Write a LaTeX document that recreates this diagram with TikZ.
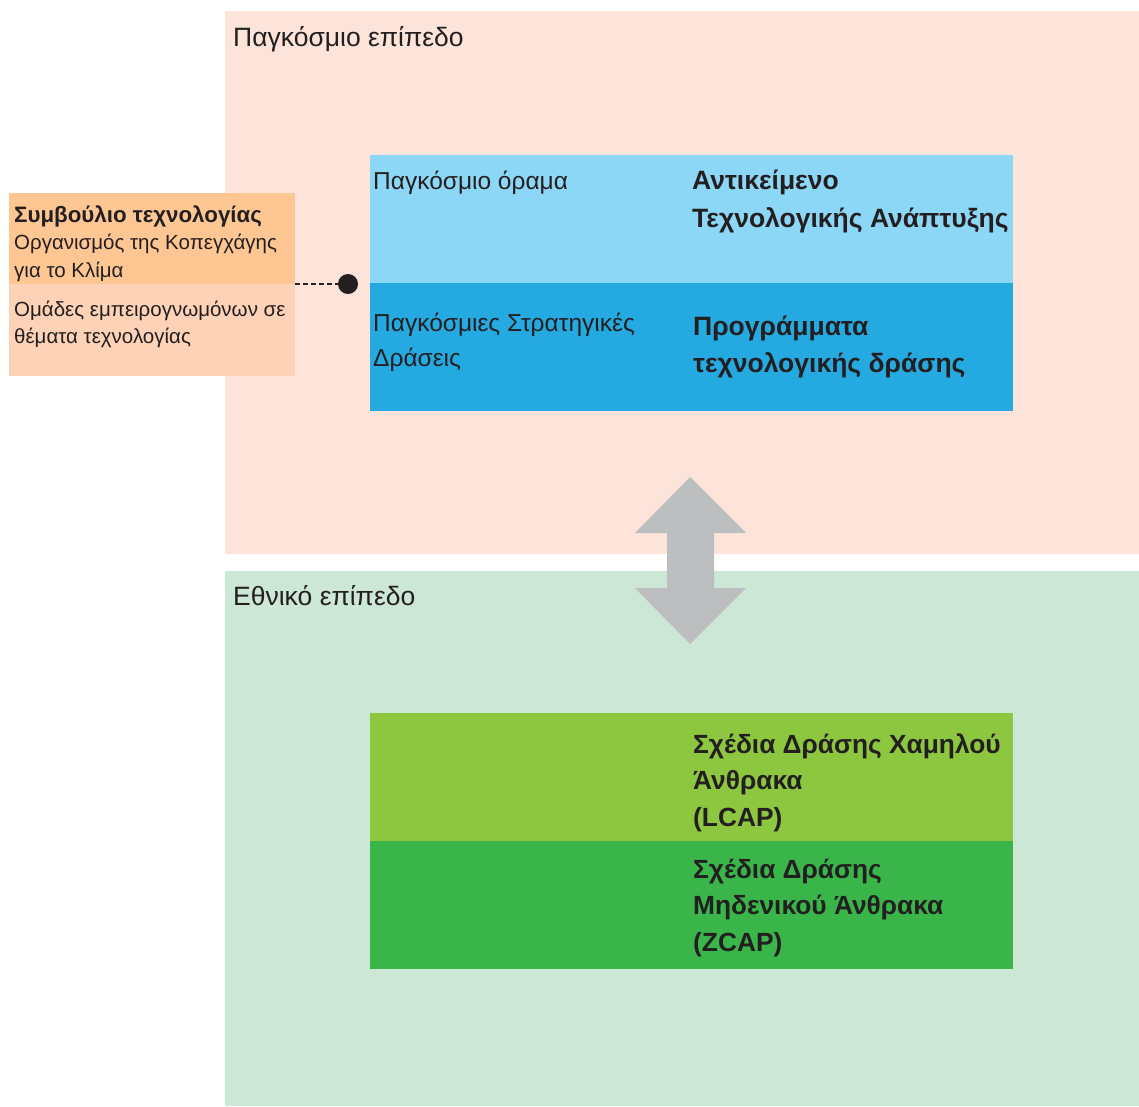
\documentclass[tikz,border=0pt]{standalone}
\usepackage{fontspec}
\setmainfont{Liberation Sans}
\definecolor{pinkbg}{RGB}{252,228,218}
\definecolor{greenbg}{RGB}{205,231,214}
\definecolor{lblue}{RGB}{141,215,246}
\definecolor{dblue}{RGB}{37,169,225}
\definecolor{lgreen}{RGB}{141,198,63}
\definecolor{dgreen}{RGB}{57,181,74}
\definecolor{orA}{RGB}{253,198,146}
\definecolor{orB}{RGB}{253,210,182}
\definecolor{arrowgray}{RGB}{188,190,192}
\definecolor{ink}{RGB}{35,31,32}
\begin{document}
\begin{tikzpicture}[x=1pt,y=-1pt,
  panel/.style={anchor=north west,inner sep=0,outer sep=0},
  txt/.style={anchor=base west,inner sep=0,align=left,text=ink},
  title/.style={txt,font=\fontsize{26.5}{32}\selectfont}]
\useasboundingbox (0,0) rectangle (1139,1106);
% panels
\fill[pinkbg] (225,11) rectangle (1139,554);
\fill[greenbg] (225,571) rectangle (1139,1106);
\node[title] (tglobal) at (233,46) {Παγκόσμιο επίπεδο};
\node[title] (tnational) at (233,605) {Εθνικό επίπεδο};
% blue boxes
\node[panel,fill=lblue,minimum width=643,minimum height=128] (vision) at (370,155) {};
\node[panel,fill=dblue,minimum width=643,minimum height=128] (strat) at (370,283) {};
\node[txt,font=\fontsize{24.5}{38}\selectfont] (v1) at (373,189) {Παγκόσμιο όραμα};
\node[txt,font=\fontsize{26.5}{38}\selectfont\bfseries] (v2) at (692,227) {Αντικείμενο\\Τεχνολογικής Ανάπτυξης};
\node[txt,font=\fontsize{24.5}{35}\selectfont] (s1) at (373,366) {Παγκόσμιες Στρατηγικές\\Δράσεις};
\node[txt,font=\fontsize{26.5}{37}\selectfont\bfseries] (s2) at (693,372) {Προγράμματα\\τεχνολογικής δράσης};
% green boxes
\node[panel,fill=lgreen,minimum width=643,minimum height=128] (lcap) at (370,713) {};
\node[panel,fill=dgreen,minimum width=643,minimum height=128] (zcap) at (370,841) {};
\node[txt,font=\fontsize{26.3}{36.5}\selectfont\bfseries] (l1) at (693,826) {Σχέδια Δράσης Χαμηλού\\Άνθρακα\\(LCAP)};
\node[txt,font=\fontsize{26.3}{36.5}\selectfont\bfseries] (z1) at (693,951) {Σχέδια Δράσης\\Μηδενικού Άνθρακα\\(ZCAP)};
% orange boxes
\node[panel,fill=orA,minimum width=286,minimum height=91] (council) at (9,193) {};
\node[panel,fill=orB,minimum width=286,minimum height=92] (experts) at (9,284) {};
\node[txt,font=\fontsize{20.5}{27.5}\selectfont] (c1) at (14,277) {{\fontsize{22.3}{27.5}\selectfont\bfseries Συμβούλιο τεχνολογίας}\\Οργανισμός της Κοπεγχάγης\\για το Κλίμα};
\node[txt,font=\fontsize{20.5}{26.7}\selectfont] (e1) at (14,343.5) {Ομάδες εμπειρογνωμόνων σε\\θέματα τεχνολογίας};
% connector
\node[circle,fill=ink,inner sep=0,minimum size=20] (dot) at (348,284) {};
\draw[ink,line width=2,dash pattern=on 5 off 3] (council.south east) -- (dot.west);
% double arrow
\fill[arrowgray] (690,477) -- (746,533) -- (714,533) -- (714,588) -- (746,588) -- (690,644)
  -- (635,588) -- (667,588) -- (667,533) -- (635,533) -- cycle;
\end{tikzpicture}
\end{document}
